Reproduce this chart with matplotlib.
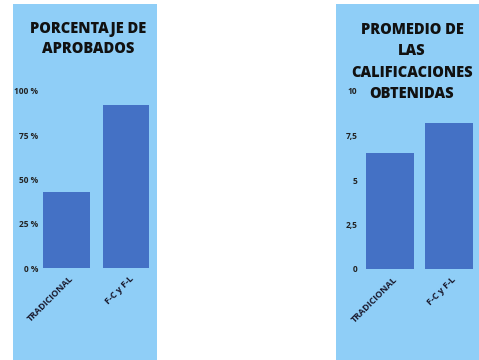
import matplotlib
matplotlib.use('Agg')
import matplotlib.pyplot as plt
from matplotlib.patches import Rectangle
from matplotlib.transforms import ScaledTranslation

# data
groups = ['TRADICIONAL', 'F-C y F-L']
aprobados = [43, 92]           # %
promedio = [6.5, 8.2]          # nota media
aprob_ticks = [0, 25, 50, 75, 100]
aprob_labels = ['0 %', '25 %', '50 %', '75 %', '100 %']
prom_ticks = [0, 2.5, 5, 7.5, 10]
prom_labels = ['0', '2,5', '5', '7,5', '10']

panel_col = '#8fcef7'
bar_col = '#4471c5'
W, H = 479, 360

plt.rcParams['font.family'] = ['Open Sans', 'DejaVu Sans']
fig = plt.figure(figsize=(W / 100, H / 100), dpi=100)
fig.patch.set_facecolor('white')

def px(x0, y0, x1, y1):
    # pixel box (top-left origin) -> figure fraction rect
    return [x0 / W, 1 - y1 / H, (x1 - x0) / W, (y1 - y0) / H]

# light blue panels
for x0, x1 in [(13, 157), (336, 479)]:
    r = px(x0, 4, x1, 360)
    fig.patches.append(Rectangle((r[0], r[1]), r[2], r[3], transform=fig.transFigure,
                                 facecolor=panel_col, edgecolor='none', zorder=-5))

def panel(rect, vals, ticks, labels, ylim, xlim, width):
    ax = fig.add_axes(rect)
    ax.set_zorder(2)
    ax.set_facecolor('none')
    ax.bar(range(len(groups)), vals, width=width, color=bar_col, zorder=2)
    ax.set_ylim(*ylim)
    ax.set_xlim(*xlim)
    ax.set_yticks(ticks)
    ax.set_yticklabels(labels, fontsize=6, fontweight='bold', color='#222222')
    ax.set_xticks(range(len(groups)))
    ax.set_xticklabels(groups, rotation=45, ha='right', va='center', rotation_mode='anchor',
                       fontsize=6.5, fontweight='bold', color='#1a1a2e')
    ax.tick_params(axis='y', length=0, pad=2)
    ax.tick_params(axis='x', length=0, pad=7)
    shift = ScaledTranslation(6 / 100, 0, fig.dpi_scale_trans)
    for lab in ax.get_xticklabels():
        lab.set_transform(lab.get_transform() + shift)
    for s in ax.spines.values():
        s.set_visible(False)
    return ax

ax1 = panel(px(41, 91, 156, 268), aprobados, aprob_ticks, aprob_labels,
            (0, 100), (-0.42, 1.5), 0.78)
ax2 = panel(px(360, 91, 478, 269), promedio, prom_ticks, prom_labels,
            (0, 10), (-0.51, 1.5), 0.82)

# titles
def title(x, y, lines, step):
    for i, t in enumerate(lines):
        fig.text(x / W, 1 - (y + i * step) / H, t, ha='center', va='center',
                 fontsize=10.5, fontweight='heavy', color='#111111', zorder=5)

title(88, 29, ['PORCENTAJE DE', 'APROBADOS'], 20)
title(412, 30, ['PROMEDIO DE', 'LAS', 'CALIFICACIONES', 'OBTENIDAS'], 21.3)

plt.savefig('out.png', dpi=100)
plt.close()
